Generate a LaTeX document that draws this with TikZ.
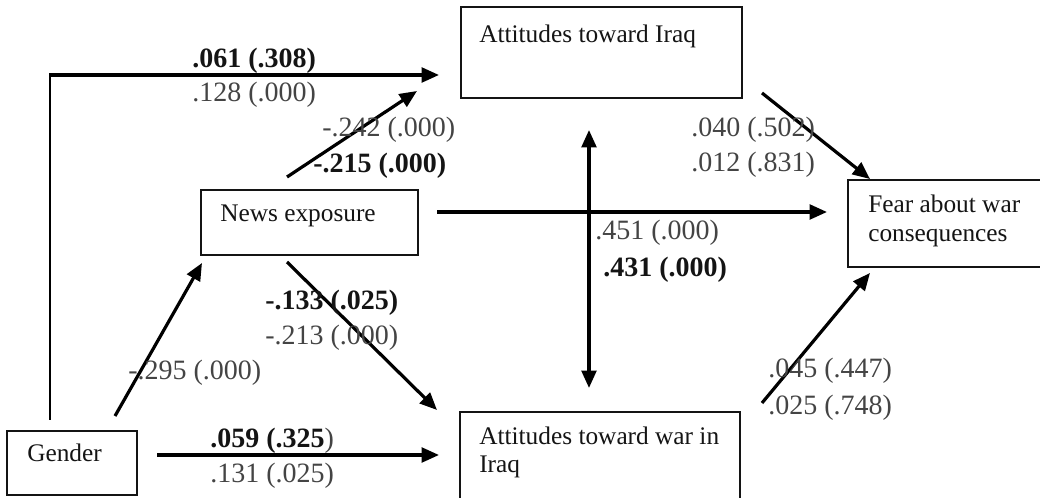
\documentclass[tikz,border=0pt]{standalone}
\usepackage{fontspec}
\setmainfont{Liberation Serif}
\usetikzlibrary{arrows.meta}
\definecolor{numgray}{RGB}{68,68,68}
\definecolor{ink}{RGB}{20,20,20}
\tikzset{
  box/.style={draw=ink, line width=1.3pt, inner sep=0pt, outer sep=0pt, anchor=north west},
  arr/.style={draw=black, line width=2.4pt, -{Triangle[length=13pt,width=11pt]}},
  dblarr/.style={draw=black, line width=2.4pt, {Triangle[length=13pt,width=11pt]}-{Triangle[length=13pt,width=11pt]}},
  thinline/.style={draw=black, line width=1.2pt},
  lbl/.style={anchor=base west, inner sep=0pt, font=\fontsize{19}{22}\selectfont, text=ink},
  num/.style={anchor=base west, inner sep=0pt, font=\fontsize{21}{24}\selectfont, text=numgray},
  bnum/.style={anchor=base west, inner sep=0pt, font=\fontsize{21}{24}\selectfont\bfseries, text=ink},
}
\begin{document}
\begin{tikzpicture}[x=0.75pt, y=-0.75pt]
\useasboundingbox (0,0) rectangle (1040,498);
\clip (0,0) rectangle (1040,498);

% boxes
\node[box, minimum width=210.75pt, minimum height=68.25pt] (iraq) at (461,7) {};
\node[box, minimum width=147.75pt, minimum height=65.25pt] (fear) at (848,180) {};
\node[box, minimum width=162.75pt, minimum height=48.75pt] (news) at (201,190) {};
\node[box, minimum width=210pt, minimum height=75pt] (war) at (460,412) {};
\node[box, minimum width=97.5pt, minimum height=48pt] (gender) at (7,431) {};

% box texts
\node[lbl] (tiraq) at (479,43) {Attitudes toward Iraq};
\node[lbl] (tfear1) at (868,213) {Fear about war};
\node[lbl] (tfear2) at (868,242) {consequences};
\node[lbl] (tnews) at (220,222) {News exposure};
\node[lbl] (twar1) at (479,445) {Attitudes toward war in};
\node[lbl] (twar2) at (479,473) {Iraq};
\node[lbl] (tgender) at (27,462) {Gender};

% connector end points
\coordinate (g0) at (50,420);
\coordinate (gc) at (50,75);
\coordinate (gi) at (439,75);
\coordinate (ns) at (287,177);
\coordinate (ni) at (417,91);
\coordinate (is) at (762,93);
\coordinate (if) at (870,179);
\coordinate (nh) at (437,212);
\coordinate (nf) at (827,212);
\coordinate (vt) at (589,130);
\coordinate (vb) at (589,388);
\coordinate (gn0) at (115,416);
\coordinate (gn1) at (202,263);
\coordinate (nw0) at (287,262);
\coordinate (nw1) at (437,410);
\coordinate (gw0) at (157,455);
\coordinate (gw1) at (439,455);
\coordinate (wf0) at (762,403);
\coordinate (wf1) at (870,273);

% connectors
\draw[thinline] (g0) -- ([yshift=-0.5pt]gc);
\draw[arr] ([xshift=-0.6pt]gc) -- (gi);
\draw[arr] (ns) -- (ni);
\draw[arr] (is) -- (if);
\draw[arr] (nh) -- (nf);
\draw[dblarr] (vt) -- (vb);
\draw[arr] (gn0) -- (gn1);
\draw[arr] (nw0) -- (nw1);
\draw[arr] (gw0) -- (gw1);
\draw[arr] (wf0) -- (wf1);

% coefficient labels
\node[bnum] (l1) at (192,68) {.061 (.308)};
\node[num] (l2) at (192,102) {.128 (.000)};
\node[num] (l3) at (322,137) {-.242 (.000)};
\node[bnum] (l4) at (313,173) {-.215 (.000)};
\node[num] (l5) at (691,137) {.040 (.502)};
\node[num] (l6) at (691,172) {.012 (.831)};
\node[num] (l7) at (595,240) {.451 (.000)};
\node[bnum] (l8) at (603,277) {.431 (.000)};
\node[bnum] (l9) at (265,310) {-.133 (.025)};
\node[num] (l10) at (265,345) {-.213 (.000)};
\node[num] (l11) at (128,380) {-.295 (.000)};
\node[num] (l12) at (210,448) {\textbf{\color{ink}.059 (.325})};
\node[num] (l13) at (210,483) {.131 (.025)};
\node[num] (l14) at (768,378) {.045 (.447)};
\node[num] (l15) at (768,415) {.025 (.748)};
\end{tikzpicture}
\end{document}
